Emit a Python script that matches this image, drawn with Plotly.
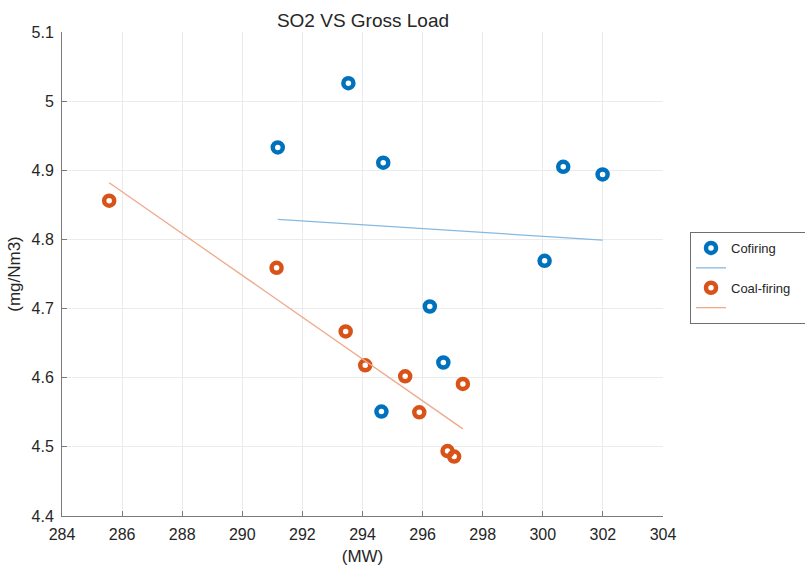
import plotly.graph_objects as go

# Cofiring (blue) scatter
cof_x = [291.18, 293.53, 294.69, 296.24, 296.69, 294.63, 300.06, 300.68, 301.99]
cof_y = [4.933, 5.026, 4.911, 4.703, 4.622, 4.551, 4.769, 4.905, 4.894]
# Coal-firing (orange) scatter
coal_x = [285.57, 291.14, 293.44, 294.09, 295.42, 295.89, 297.34, 296.83, 297.05]
coal_y = [4.856, 4.759, 4.667, 4.618, 4.602, 4.550, 4.591, 4.494, 4.486]
# Fit lines (end points)
cof_fit_x = [291.18, 301.99]
cof_fit_y = [4.829, 4.799]
coal_fit_x = [285.57, 297.34]
coal_fit_y = [4.882, 4.526]

x_ticks = [284, 286, 288, 290, 292, 294, 296, 298, 300, 302, 304]
y_ticks = [4.4, 4.5, 4.6, 4.7, 4.8, 4.9, 5.0, 5.1]
y_tick_text = ["4.4", "4.5", "4.6", "4.7", "4.8", "4.9", "5", "5.1"]

BLUE = "#0072BD"
ORANGE = "#D95319"
FONT = "Liberation Sans, Arial, sans-serif"
TXT = "#262626"

fig = go.Figure()
fig.add_trace(go.Scatter(x=cof_x, y=cof_y, mode="markers", name="Cofiring",
                         marker=dict(symbol="circle-open", size=10, color=BLUE,
                                     line=dict(width=4.5, color=BLUE))))
fig.add_trace(go.Scatter(x=cof_fit_x, y=cof_fit_y, mode="lines", name=" ",
                         line=dict(color="#86B9E0", width=1.3)))
fig.add_trace(go.Scatter(x=coal_x, y=coal_y, mode="markers", name="Coal-firing\u00a0\u00a0\u00a0",
                         marker=dict(symbol="circle-open", size=10, color=ORANGE,
                                     line=dict(width=4.5, color=ORANGE))))
fig.add_trace(go.Scatter(x=coal_fit_x, y=coal_fit_y, mode="lines", name="  ",
                         line=dict(color="#EFA98B", width=1.3)))

fig.update_layout(
    width=805, height=566,
    margin=dict(l=62, r=142, t=32, b=50, autoexpand=False),
    paper_bgcolor="white", plot_bgcolor="white",
    font=dict(family=FONT, size=16, color=TXT),
    title=dict(text="SO2 VS Gross Load", x=(363 / 805), xanchor="center",
               y=1 - 20 / 566, yanchor="middle",
               font=dict(family=FONT, size=19, color=TXT)),
    showlegend=True,
    legend=dict(x=(690 - 62) / 601, xanchor="left", y=(516 - 232) / 484, yanchor="top",
                bordercolor="#6e6e6e", borderwidth=1, bgcolor="white",
                font=dict(family=FONT, size=13, color=TXT),
                tracegroupgap=0, itemwidth=30),
)
fig.update_xaxes(range=[284, 304], tickvals=x_ticks, showgrid=True, gridcolor="#ebebeb",
                 gridwidth=1, showline=True, linecolor="#7a7a7a", linewidth=1,
                 ticks="inside", ticklen=5, tickcolor="#7a7a7a", zeroline=False,
                 ticklabelstandoff=4, automargin=False,
                 title=dict(text="(MW)", font=dict(family=FONT, size=17, color=TXT), standoff=10),
                 tickfont=dict(family=FONT, size=16, color=TXT))
fig.update_yaxes(range=[4.4, 5.1], tickvals=y_ticks, ticktext=y_tick_text, showgrid=True,
                 gridcolor="#ebebeb", gridwidth=1, showline=True, linecolor="#7a7a7a",
                 linewidth=1, ticks="inside", ticklen=5, tickcolor="#7a7a7a", zeroline=False,
                 ticklabelstandoff=4, automargin=False,
                 title=dict(text="(mg/Nm3)", font=dict(family=FONT, size=17, color=TXT), standoff=6),
                 tickfont=dict(family=FONT, size=16, color=TXT))

fig.write_html("out.html")
